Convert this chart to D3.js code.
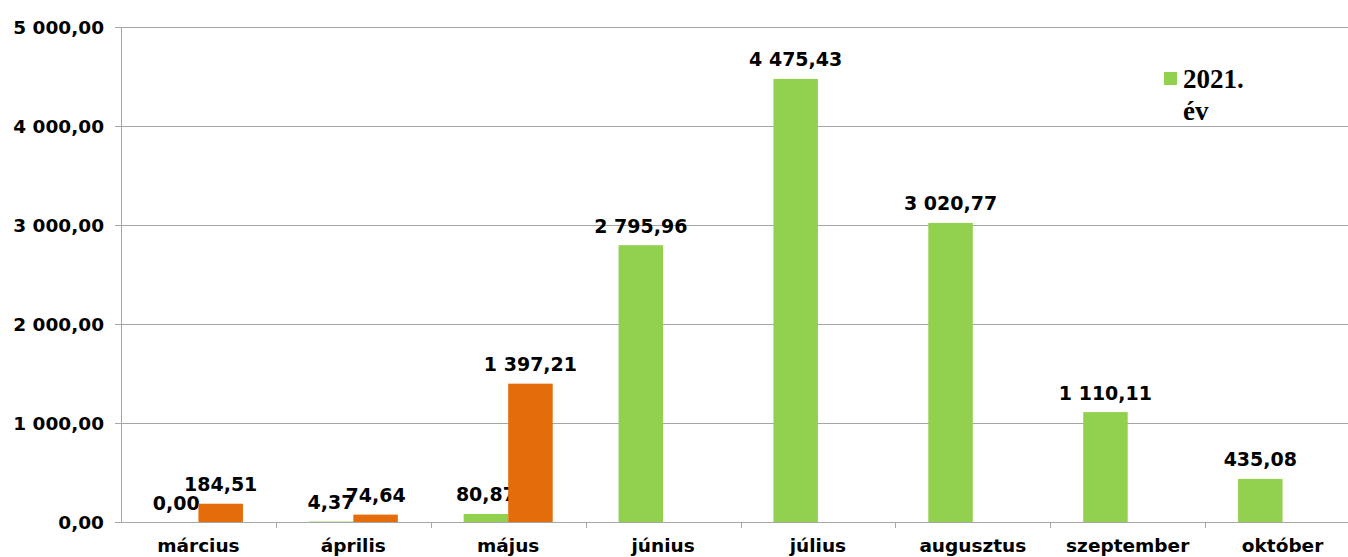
<!DOCTYPE html>
<html>
<head>
<meta charset="utf-8">
<script src="https://cdn.jsdelivr.net/npm/d3@7"></script>
<style>
  html, body { margin: 0; padding: 0; background: #fff; }
  svg { display: block; }
</style>
</head>
<body>
<svg id="chart" width="1348" height="557"></svg>
<script>
// Monthly values, two series per month
const months = ["március", "április", "május", "június", "július", "augusztus", "szeptember", "október"];
const values2021 = [0.00, 4.37, 80.87, 2795.96, 4475.43, 3020.77, 1110.11, 435.08];
const valuesOther = [184.51, 74.64, 1397.21, null, null, null, null, null];
const yTicks = [0, 1000, 2000, 3000, 4000, 5000];
const seriesNames = ["2021.", "év"];

const colors = { green: "#92d050", orange: "#e46c0a" };
const fontFamily = "Verdana, 'DejaVu Sans', sans-serif";

const svg = d3.select("#chart");
const margin = { left: 121, right: -12, top: 27, bottom: 35 };
const W = 1348, H = 557;

const x = d3.scaleBand()
  .domain(months)
  .range([margin.left, W - margin.right])
  .paddingInner(0)
  .paddingOuter(0);

const y = d3.scaleLinear()
  .domain([0, 5000])
  .range([H - margin.bottom, margin.top]);

const fmt = v => {
  const s = d3.format(",.2f")(v);
  return s.replace(/,/g, " ").replace(".", ",");
};

// Horizontal gridlines
svg.append("g")
  .selectAll("line")
  .data(yTicks)
  .join("line")
  .attr("x1", margin.left - 6)
  .attr("x2", W)
  .attr("y1", d => Math.round(y(d)) + 0.5)
  .attr("y2", d => Math.round(y(d)) + 0.5)
  .attr("stroke", "#a6a6a6")
  .attr("stroke-width", 1);

// Y axis line
svg.append("line")
  .attr("x1", margin.left + 0.5).attr("x2", margin.left + 0.5)
  .attr("y1", y(5000)).attr("y2", y(0))
  .attr("stroke", "#a6a6a6");

// Y axis labels
svg.append("g")
  .selectAll("text")
  .data(yTicks)
  .join("text")
  .attr("x", 104)
  .attr("y", d => y(d))
  .attr("dy", "0.36em")
  .attr("text-anchor", "end")
  .attr("font-family", fontFamily)
  .attr("font-weight", "bold")
  .attr("font-size", 18.5)
  .attr("fill", "#000")
  .text(d => fmt(d));

// X axis category tick marks
const boundaries = months.map(m => x(m)).concat([x(months[months.length - 1]) + x.bandwidth()]);
svg.append("g")
  .selectAll("line")
  .data(boundaries.slice(1))
  .join("line")
  .attr("x1", d => Math.round(d) + 0.5)
  .attr("x2", d => Math.round(d) + 0.5)
  .attr("y1", y(0))
  .attr("y2", y(0) + 6)
  .attr("stroke", "#a6a6a6");

// X axis labels
svg.append("g")
  .selectAll("text")
  .data(months)
  .join("text")
  .attr("x", d => x(d) + x.bandwidth() / 2)
  .attr("y", 552)
  .attr("text-anchor", "middle")
  .attr("font-family", fontFamily)
  .attr("font-weight", "bold")
  .attr("font-size", 18.5)
  .attr("fill", "#000")
  .text(d => d);

// Bars within each month
const inner = d3.scaleBand()
  .domain(["a", "b"])
  .range([0, x.bandwidth()])
  .paddingInner(0)
  .paddingOuter(0.74);

const series = [
  { key: "a", vals: values2021, color: colors.green },
  { key: "b", vals: valuesOther, color: colors.orange }
];

series.forEach(s => {
  const data = months.map((m, i) => ({ m, v: s.vals[i] })).filter(d => d.v !== null);
  const g = svg.append("g");
  g.selectAll("rect")
    .data(data)
    .join("rect")
    .attr("x", d => x(d.m) + inner(s.key))
    .attr("width", inner.bandwidth())
    .attr("y", d => y(d.v))
    .attr("height", d => y(0) - y(d.v))
    .attr("fill", s.color);
  g.selectAll("text")
    .data(data)
    .join("text")
    .attr("x", d => x(d.m) + inner(s.key) + inner.bandwidth() / 2)
    .attr("y", d => y(d.v) - 12.5)
    .attr("text-anchor", "middle")
    .attr("font-family", fontFamily)
    .attr("font-weight", "bold")
    .attr("font-size", 19)
    .attr("fill", "#000")
    .text(d => fmt(d.v));
});

// Legend
const lg = svg.append("g").attr("transform", "translate(1164,72)");
lg.append("rect").attr("width", 13).attr("height", 13).attr("fill", colors.green);
lg.selectAll("text")
  .data(seriesNames)
  .join("text")
  .attr("x", 19)
  .attr("y", (d, i) => 16 + i * 32)
  .attr("font-family", "'Liberation Serif', 'Times New Roman', serif")
  .attr("font-weight", "bold")
  .attr("font-size", 27)
  .attr("fill", "#000")
  .text(d => d);
</script>
</body>
</html>
